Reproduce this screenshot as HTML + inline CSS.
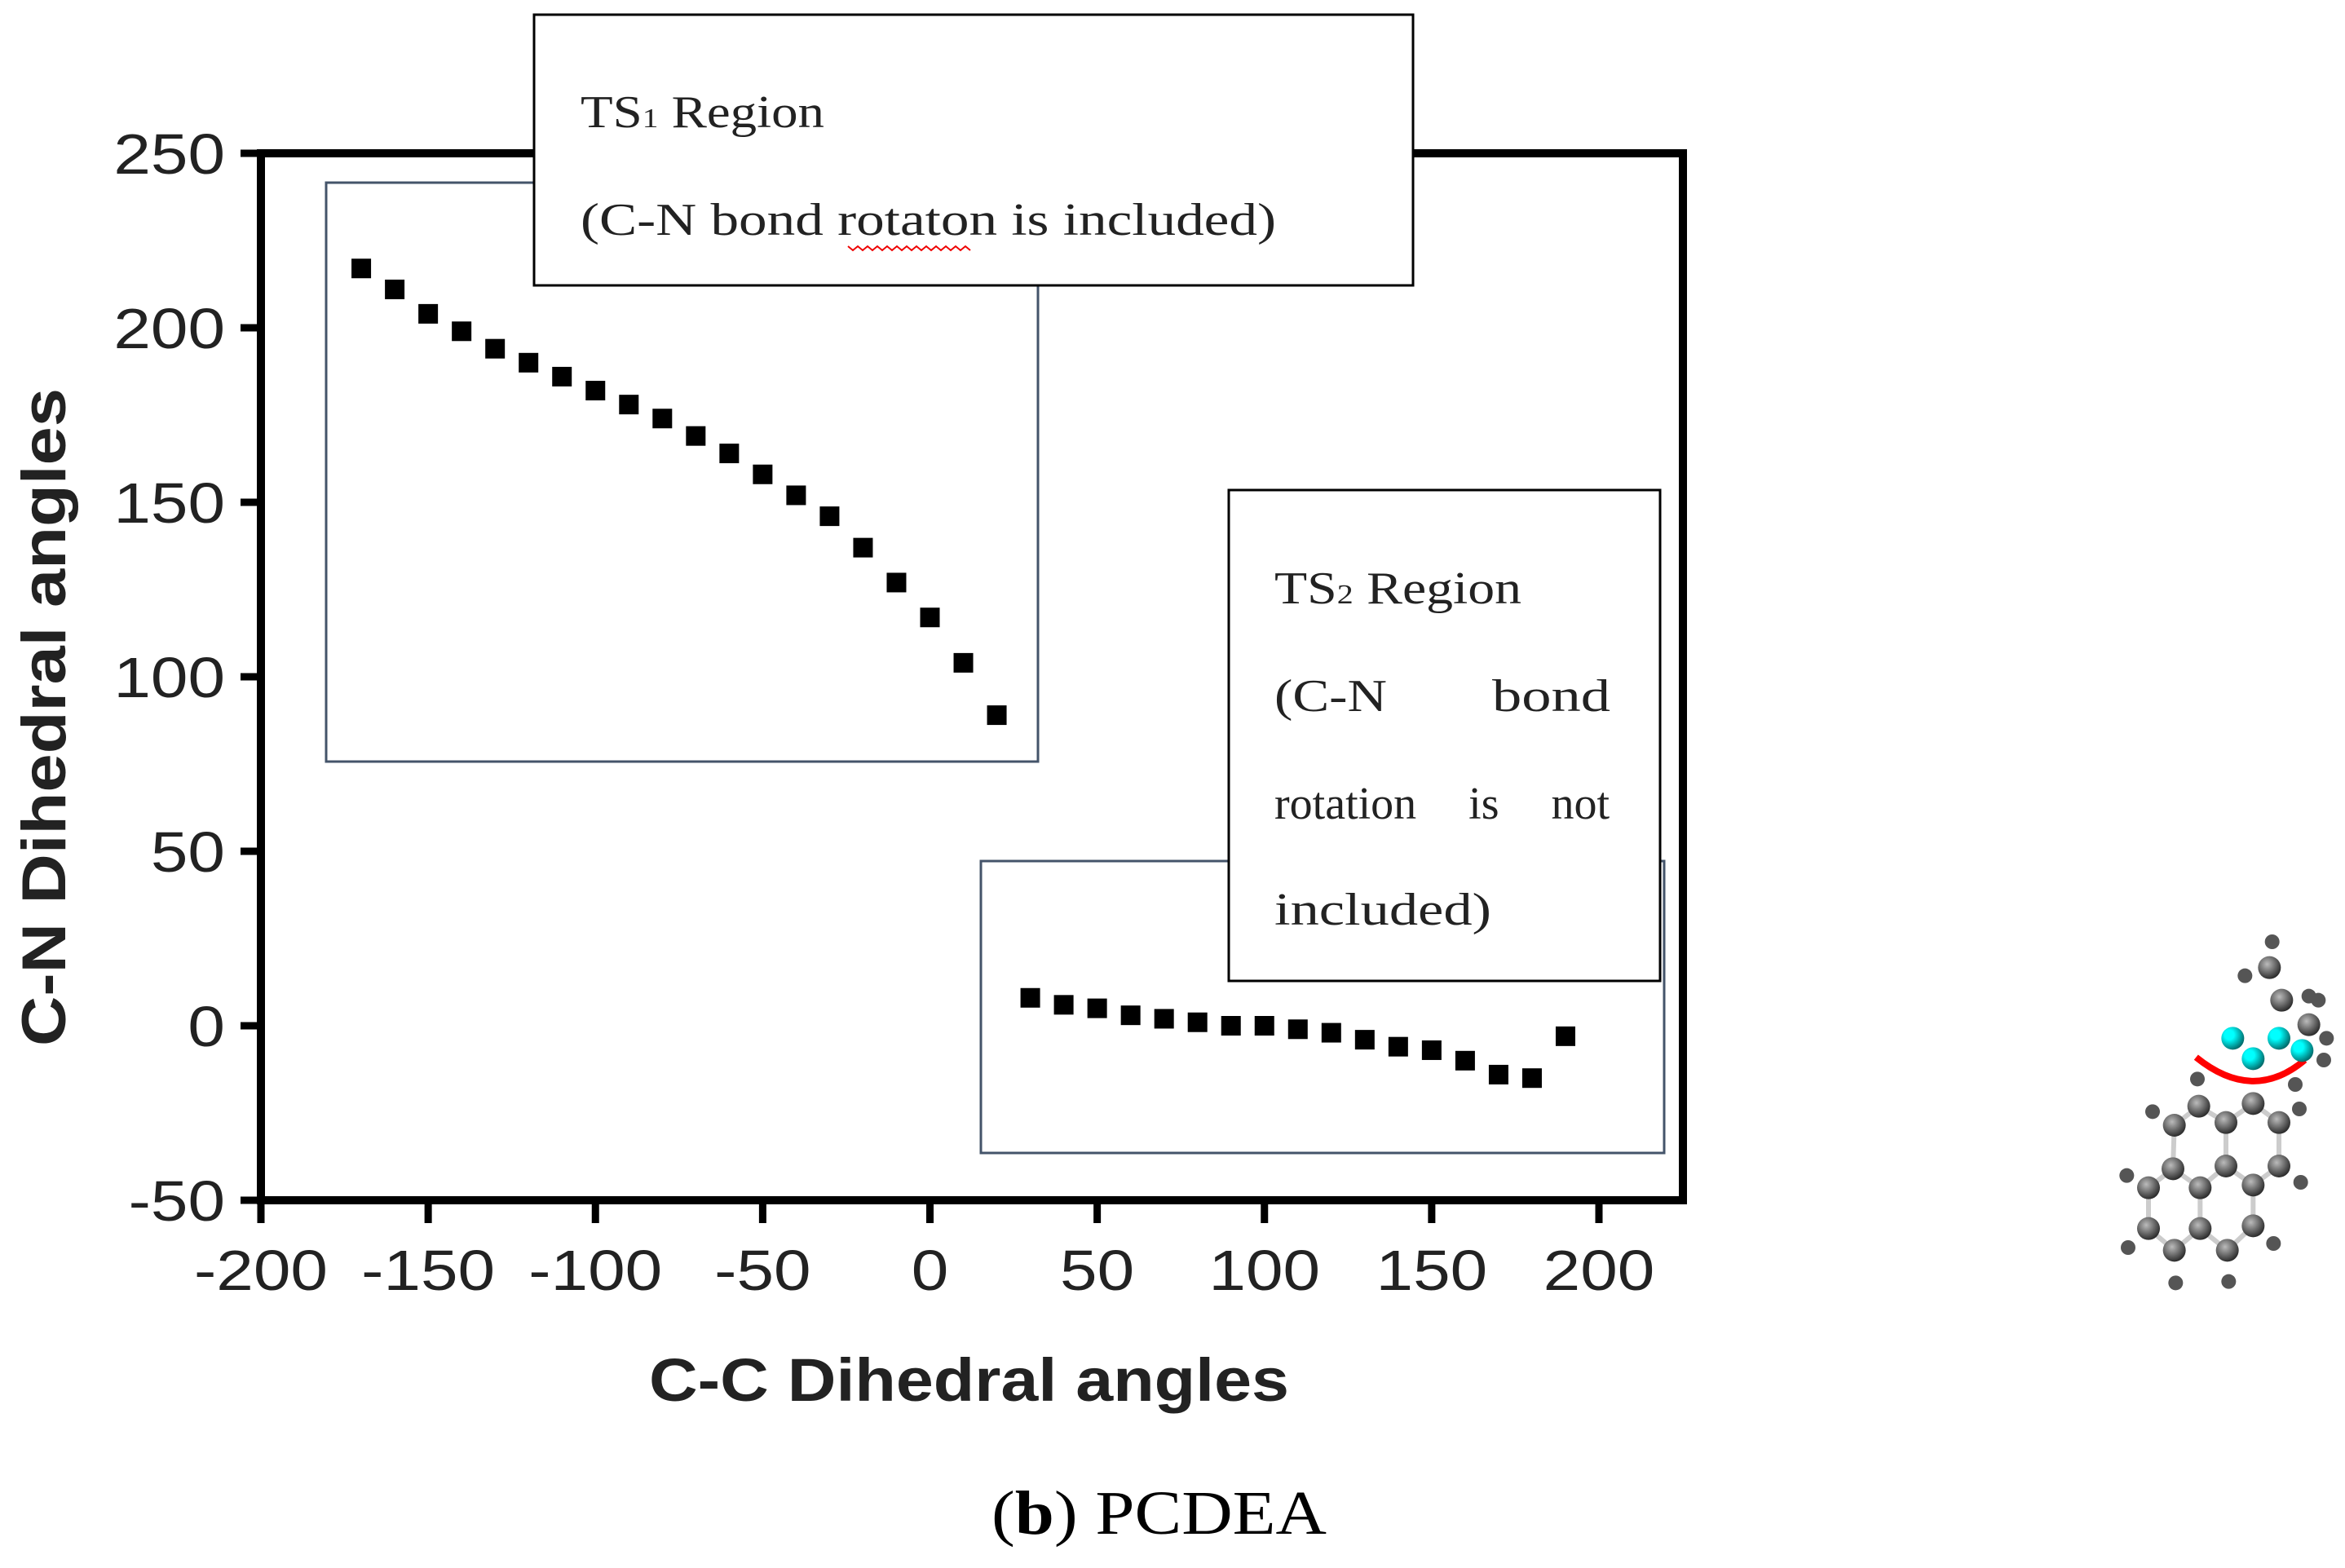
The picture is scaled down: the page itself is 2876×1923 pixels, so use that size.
<!DOCTYPE html>
<html><head><meta charset="utf-8"><style>
html,body{margin:0;padding:0;background:#fff}
svg{display:block}
</style></head><body>
<svg id="chart" width="2876" height="1923" viewBox="0 0 2876 1923" xmlns="http://www.w3.org/2000/svg">
<rect x="0" y="0" width="2876" height="1923" fill="#fff"/>
<g id="axes"></g>
<g id="regions">
<rect x="400" y="224" width="873" height="710" fill="none" stroke="#44546a" stroke-width="3"/>
<rect x="1203" y="1056" width="838" height="358" fill="none" stroke="#44546a" stroke-width="3"/>
</g>
<g id="points"></g>
<g>
<rect x="655" y="18" width="1078" height="332" fill="#fff" stroke="#000" stroke-width="3"/>
<text x="712" y="156" font-family="Liberation Serif, serif" font-size="56" fill="#222" textLength="299" lengthAdjust="spacingAndGlyphs">TS<tspan font-size="34">1</tspan> Region</text>
<text x="712" y="288" font-family="Liberation Serif, serif" font-size="56" fill="#222" textLength="853" lengthAdjust="spacingAndGlyphs">(C-N bond rotaton is included)</text>
<path d="M1040 302 l6 5 l6 -5 l6 5 l6 -5 l6 5 l6 -5 l6 5 l6 -5 l6 5 l6 -5 l6 5 l6 -5 l6 5 l6 -5 l6 5 l6 -5 l6 5 l6 -5 l6 5 l6 -5 l6 5 l6 -5 l6 5 l6 -5 l6 5" fill="none" stroke="#e00" stroke-width="2"/>
</g>
<g>
<rect x="1507" y="601" width="529" height="602" fill="#fff" stroke="#000" stroke-width="3"/>
<text x="1563" y="740" font-family="Liberation Serif, serif" font-size="56" fill="#222" textLength="303" lengthAdjust="spacingAndGlyphs">TS<tspan font-size="34">2</tspan> Region</text>
<text x="1563" y="872" font-family="Liberation Serif, serif" font-size="56" fill="#222" textLength="138" lengthAdjust="spacingAndGlyphs">(C-N</text>
<text x="1830" y="872" font-family="Liberation Serif, serif" font-size="56" fill="#222" textLength="145" lengthAdjust="spacingAndGlyphs">bond</text>
<text x="1563" y="1004" font-family="Liberation Serif, serif" font-size="56" fill="#222" word-spacing="50">rotation is not</text>
<text x="1563" y="1134" font-family="Liberation Serif, serif" font-size="56" fill="#222" textLength="266" lengthAdjust="spacingAndGlyphs">included)</text>
</g>
<text x="796" y="1718" font-family="Liberation Sans, sans-serif" font-weight="bold" font-size="74" fill="#222" textLength="785" lengthAdjust="spacingAndGlyphs">C-C Dihedral angles</text>
<text transform="translate(80,880) rotate(-90)" x="-403" font-family="Liberation Sans, sans-serif" font-weight="bold" font-size="76" fill="#222" textLength="807" lengthAdjust="spacingAndGlyphs">C-N Dihedral angles</text>
<text x="1216" y="1881" font-family="Liberation Serif, serif" font-size="76" fill="#000" textLength="411" lengthAdjust="spacingAndGlyphs">(<tspan font-weight="bold">b</tspan>) PCDEA</text>
<g id="mol"></g>
</svg>
<script>
const xTicks = [-200,-150,-100,-50,0,50,100,150,200];
const yTicks = [-50,0,50,100,150,200,250];
const ts1X = [-170,-160,-150,-140,-130,-120,-110,-100,-90,-80,-70,-60,-50,-40,-30,-20,-10,0,10,20];
const ts1Y = [217,211,204,199,194,190,186,182,178,174,169,164,158,152,146,137,127,117,104,89];
const ts2X = [30,40,50,60,70,80,90,100,110,120,130,140,150,160,170,180,190];
const ts2Y = [8,6,5,3,2,1,0,0,-1,-2,-4,-6,-7,-10,-14,-15,-3];

const NS='http://www.w3.org/2000/svg';
const X0=320, X1=1961, Y0=1472, Y1=188;
function sx(v){return X0+(v+200)*(X1-X0)/400;}
function sy(v){return Y0-(v+50)*(Y0-Y1)/300;}
function mk(tag,attrs,parent){const e=document.createElementNS(NS,tag);for(const k in attrs)e.setAttribute(k,attrs[k]);parent.appendChild(e);return e;}
const axes=document.getElementById('axes');
const frame=mk('rect',{x:X0,y:Y1,width:2064-X0,height:Y0-Y1,fill:'none',stroke:'#000','stroke-width':10},axes);


const tf={'font-family':'Liberation Sans, sans-serif','font-size':70,fill:'#222'};
function stretch(t){const w=t.getComputedTextLength();t.setAttribute('textLength',w*1.17);t.setAttribute('lengthAdjust','spacingAndGlyphs');return w*1.17;}
xTicks.forEach(t=>{
  const l=mk('line',{x1:sx(t),x2:sx(t),y1:Y0,y2:Y0+28,stroke:'#000','stroke-width':9},axes);
  
  
  const tx=mk('text',Object.assign({x:sx(t),y:1582},tf),axes);
  tx.textContent=t;
  
  
  const w=stretch(tx);tx.setAttribute('x',sx(t)-w/2);
});
yTicks.forEach(t=>{
  const l=mk('line',{x1:X0-25,x2:X0,y1:sy(t),y2:sy(t),stroke:'#000','stroke-width':9},axes);
  
  
  const tx=mk('text',Object.assign({x:276,y:sy(t)+25},tf),axes);
  tx.textContent=t;
  
  
  const w=stretch(tx);tx.setAttribute('x',276-w);
});
const pts=document.getElementById('points');
const S=24;
ts1X.forEach((x,i)=>{
  const r=mk('rect',{x:sx(x)-S/2,y:sy(ts1Y[i])-S/2,width:S,height:S,fill:'#000'},pts);
  
  
});
ts2X.forEach((x,i)=>{
  const r=mk('rect',{x:sx(x)-S/2,y:sy(ts2Y[i])-S/2,width:S,height:S,fill:'#000'},pts);
  
  
});
const mol=document.getElementById('mol');
const defs=mk('defs',{},mol);
const g1=mk('radialGradient',{id:'gC',cx:'0.4',cy:'0.35',r:'0.7'},defs);
mk('stop',{offset:'0','stop-color':'#bbb'},g1);mk('stop',{offset:'1','stop-color':'#222'},g1);
const g2=mk('radialGradient',{id:'gN',cx:'0.35',cy:'0.35',r:'0.7'},defs);
mk('stop',{offset:'0.3','stop-color':'#0ff'},g2);mk('stop',{offset:'1','stop-color':'#066'},g2);
function P(zx,zy){return [2550+zx/3,1100+zy/3];}
const C=[[350,840],[440,770],[540,830],[640,760],[735,830],[345,1000],[540,990],[735,990],[255,1070],[445,1070],[640,1060],[255,1220],[445,1220],[640,1210],[350,1300],[545,1300],[700,260],[745,380],[845,470]];
const H=[[270,790],[175,1025],[180,1290],[355,1420],[550,1415],[715,1275],[815,1050],[810,780],[435,670],[795,690],[710,165],[610,290],[845,365],[880,380],[910,520],[900,600]];
const N=[[565,520],[640,595],[735,520],[820,565]];
const bonds=[[0,1],[1,2],[2,3],[3,4],[0,5],[2,6],[4,7],[5,8],[5,9],[6,9],[6,10],[7,10],[8,11],[9,12],[10,13],[11,14],[12,14],[12,15],[13,15]];
bonds.forEach(b=>{const a=P(...C[b[0]]),c=P(...C[b[1]]);mk('line',{x1:a[0],y1:a[1],x2:c[0],y2:c[1],stroke:'#ccc','stroke-width':6},mol);});
const arc=mk('path',{d:(()=>{const a=P(430,590),m=P(640,760),c=P(830,600);return `M${a[0]} ${a[1]} Q${m[0]} ${m[1]} ${c[0]} ${c[1]}`;})(),fill:'none',stroke:'#f00','stroke-width':8},mol);


C.forEach(p=>{const q=P(...p);mk('circle',{cx:q[0],cy:q[1],r:14,fill:'url(#gC)'},mol);});
H.forEach(p=>{const q=P(...p);mk('circle',{cx:q[0],cy:q[1],r:9,fill:'#555'},mol);});
N.forEach(p=>{const q=P(...p);mk('circle',{cx:q[0],cy:q[1],r:14,fill:'url(#gN)'},mol);});
</script>
</body></html>
